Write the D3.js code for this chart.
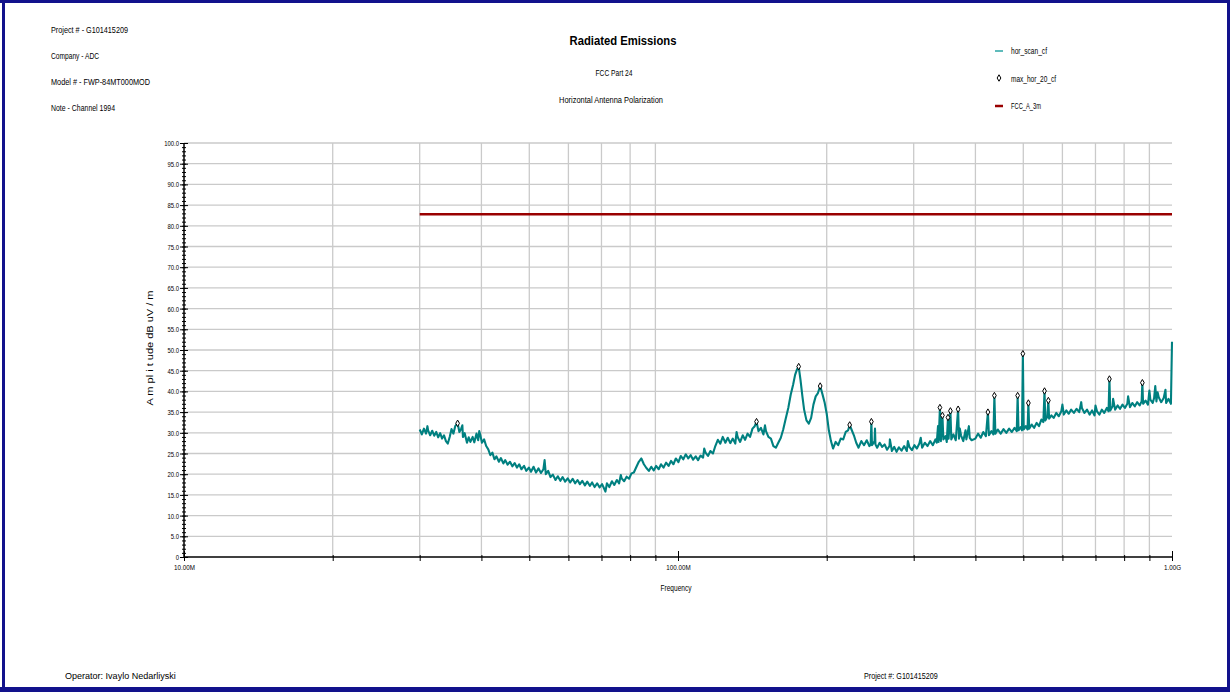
<!DOCTYPE html>
<html>
<head>
<meta charset="utf-8">
<script src="https://cdn.jsdelivr.net/npm/d3@7"></script>
<style>
  body { margin: 0; background: #fff; }
  svg text { font-family: "Liberation Sans Narrow", "Liberation Sans", Arial, sans-serif; fill: #000; }
</style>
</head>
<body>
<div id="chart"></div>
<script>
// header / footer text
const headerLines = ['Project # - G101415209', 'Company - ADC', 'Model # - FWP-84MT000MOD', 'Note - Channel 1994'];
const titleLines = ['Radiated Emissions', 'FCC Part 24', 'Horizontal Antenna Polarization'];
const legendNames = ['hor_scan_cf', 'max_hor_20_cf', 'FCC_A_3m'];
const footerLines = ['Operator: Ivaylo Nedarliyski', 'Project #: G101415209'];

// x axis (MHz) and labels
const xTickFreqs = [10, 20, 30, 40, 50, 60, 70, 80, 90, 100, 200, 300, 400, 500, 600, 700, 800, 900, 1000];
const xLabelFreqs = [10, 100, 1000];
const xLabelTexts = ['10.00M', '100.00M', '1.00G'];

// limit line FCC_A_3m
const limitFreqs = [30, 1000];
const limitLevels = [82.8, 82.8];

// peaks max_hor_20_cf (MHz, dBuV/m)
const peakFreqs = [35.8, 144.2, 175.5, 194, 222.6, 246.3, 339, 343, 352, 356, 369, 424, 437, 487, 499, 512, 552, 562, 747, 871];
const peakLevels = [32.3, 32.7, 46.0, 41.3, 31.9, 32.7, 36.1, 34.2, 33.7, 35.3, 35.7, 35.0, 39.0, 39.0, 49.1, 37.2, 40.1, 37.8, 43.0, 42.1];

// scan hor_scan_cf, [MHz, dBuV/m]
const scanPoints = [
  [30.0,30.8],[30.3,29.6],[30.6,31.0],[30.9,29.8],[31.1,31.6],[31.2,30.6],[31.5,29.4],[31.8,30.5],[32.1,29.3],[32.4,30.2],[32.7,28.9],
  [33.0,29.9],[33.3,28.6],[33.6,29.4],[33.9,28.0],[34.2,27.4],[34.5,29.0],[34.8,30.9],[35.1,29.8],[35.4,31.6],[35.8,32.3],
  [36.1,30.2],[36.4,31.0],[36.6,31.8],[36.7,29.0],[37.0,29.9],[37.4,27.6],[37.7,28.9],[38.0,27.8],[38.4,29.0],[38.7,27.7],[39.1,29.8],
  [39.4,28.2],[39.6,30.4],[39.8,29.4],[40.1,27.6],[40.5,28.4],[40.9,26.8],[41.3,26.0],[41.7,24.6],[42.1,25.2],[42.5,23.6],[42.9,24.3],
  [43.4,23.0],[43.8,23.9],[44.3,22.6],[44.7,23.4],[45.2,22.3],[45.7,23.0],[46.2,21.9],[46.7,22.7],[47.2,21.6],[47.7,22.4],
  [48.2,21.2],[48.8,22.0],[49.3,20.8],[49.9,21.6],[50.4,20.6],[51.0,21.8],[51.6,20.4],[52.2,21.4],[52.8,20.3],[53.4,21.2],
  [53.7,23.4],[54.0,20.0],[54.6,20.8],[55.2,19.3],[55.8,19.9],[56.5,18.6],[57.1,19.5],[57.8,18.4],[58.4,19.3],[59.1,18.2],[59.8,19.0],
  [60.5,18.0],[61.2,18.9],[61.9,17.8],[62.6,18.6],[63.3,17.6],[64.0,18.4],[64.8,17.3],[65.5,18.2],[66.3,17.2],[67.0,18.0],
  [67.8,16.9],[68.6,17.8],[69.4,16.8],[70.2,17.6],[71.0,16.3],[71.3,15.8],[71.8,17.8],[72.6,16.9],[73.5,18.3],[74.3,17.4],[75.2,18.6],
  [76.0,17.8],[76.6,19.8],[76.9,19.0],[77.8,18.3],[78.7,19.4],[79.6,18.9],[80.5,20.2],[81.4,20.4],[82.4,21.8],[83.3,23.0],[84.3,23.8],
  [85.3,22.4],[86.3,21.5],[87.3,20.8],[88.3,21.8],[89.3,20.9],[90.3,22.0],[91.4,21.2],[92.4,22.4],[93.5,21.6],[94.6,22.8],
  [95.7,22.0],[96.8,23.2],[97.9,22.4],[99.0,23.8],[100.2,22.9],[101.3,24.4],[102.5,23.6],[103.7,24.8],[104.9,23.8],[106.1,24.6],
  [107.3,23.5],[108.6,24.3],[109.8,23.4],[111.1,24.5],[112.4,24.0],[113.0,26.2],[113.7,25.2],[115.0,24.4],[116.3,25.6],[117.7,25.0],[119.0,26.8],
  [120.4,28.3],[121.8,27.4],[123.2,29.0],[124.7,27.6],[126.1,28.8],[127.6,27.5],[129.1,28.6],[130.6,27.4],[131.4,30.2],[132.1,28.9],[133.6,27.8],
  [135.2,29.4],[136.7,28.3],[138.3,29.8],[139.9,29.0],[141.5,31.0],[143.0,31.6],[144.2,32.7],[145.5,30.4],[147.2,31.2],[148.9,29.6],
  [150.0,31.8],[150.7,30.4],[152.4,29.0],[154.2,28.6],[156.0,26.8],[157.8,26.4],[159.6,27.6],[161.5,28.8],[163.3,30.8],[165.2,33.4],[167.2,36.0],
  [169.1,39.2],[171.0,41.6],[172.6,44.0],[174.0,45.2],[175.5,46.0],[177.0,42.8],[178.5,39.0],[180.0,35.6],[182.0,33.0],[184.0,32.2],
  [186.0,33.6],[188.0,36.8],[190.0,38.8],[192.0,39.6],[194.0,41.3],[196.0,39.4],[198.0,37.4],[200.0,34.6],[202.0,30.6],[204.0,28.0],
  [206.0,26.2],[208.5,27.8],[211.0,27.0],[213.5,28.6],[216.0,28.4],[218.5,30.2],[221.0,30.6],[222.6,31.9],[224.5,30.8],[227.0,29.4],
  [229.5,27.6],[232.0,26.4],[235.0,28.0],[238.0,27.0],[241.0,28.2],[244.0,26.8],[245.5,27.2],[246.3,32.7],[247.0,27.0],[250.0,28.0],
  [250.5,31.0],[251.0,27.2],[253.0,26.4],[256.0,27.6],[259.0,26.6],[262.0,27.2],[265.0,25.9],[268.0,26.8],[268.5,28.4],[271.0,25.6],[274.0,26.6],
  [277.0,25.4],[280.0,26.5],[283.5,25.7],[287.0,26.8],[290.5,25.6],[292.0,28.0],[294.0,26.6],[297.5,25.8],[301.0,27.0],[304.5,26.2],[308.0,27.4],
  [310.0,28.8],[312.0,26.4],[316.0,27.6],[320.0,26.8],[324.0,28.0],[328.0,27.0],[332.0,28.4],[334.0,27.6],[336.0,31.6],[337.0,27.8],[339.0,36.1],
  [340.5,28.0],[343.0,34.2],[344.5,28.4],[348.0,29.2],[350.0,27.8],[352.0,33.7],[353.0,28.6],[356.0,35.3],[357.5,28.4],[361.0,29.6],
  [365.0,28.2],[369.0,35.7],[370.5,28.6],[372.0,31.0],[374.0,29.4],[378.0,28.0],[382.0,30.6],[383.5,28.4],[388.0,31.6],[389.5,28.8],[393.0,28.2],
  [400.0,28.6],[405.0,29.8],[410.0,28.8],[415.0,30.2],[420.0,29.2],[424.0,35.0],[426.0,29.4],[431.0,30.4],[435.0,29.6],[437.0,39.0],
  [439.0,29.8],[444.0,30.8],[450.0,29.8],[456.0,30.9],[462.0,30.0],[468.0,31.0],[474.0,30.2],[480.0,31.2],[485.0,30.4],[487.0,39.0],
  [489.0,30.6],[494.0,31.4],[497.0,30.6],[499.0,49.1],[501.0,30.8],[506.0,31.6],[510.0,30.8],[512.0,37.2],[514.0,31.0],[520.0,32.0],
  [526.0,31.2],[532.0,32.4],[538.0,31.6],[544.0,33.2],[549.0,32.6],[552.0,40.1],[554.0,33.0],[559.0,33.8],[562.0,37.8],[564.0,33.4],
  [570.0,34.2],[576.0,33.6],[583.0,34.8],[590.0,34.0],[597.0,35.2],[600.0,36.8],[604.0,34.4],[611.0,35.4],[618.0,34.6],[625.0,35.6],[633.0,34.8],
  [641.0,35.8],[649.0,35.0],[655.0,37.4],[657.0,36.0],[665.0,34.8],[673.0,35.6],[681.0,34.4],[689.0,35.4],[697.0,34.2],[700.0,36.6],[705.0,35.2],[713.0,34.4],
  [721.0,35.6],[729.0,34.8],[738.0,36.0],[744.0,35.2],[747.0,43.0],[750.0,35.4],[758.0,36.4],[760.0,38.2],[767.0,35.6],[776.0,36.6],[785.0,35.8],
  [794.0,36.8],[803.0,36.0],[812.0,37.0],[815.0,38.8],[822.0,36.2],[831.0,37.2],[841.0,36.4],[850.0,37.4],[860.0,36.6],[868.0,37.6],[871.0,42.1],
  [874.0,37.0],[884.0,37.8],[894.0,36.8],[900.0,40.2],[904.0,38.0],[914.0,37.2],[920.0,38.4],[925.0,41.3],[930.0,37.6],[935.0,39.8],[940.0,38.6],[951.0,37.4],
  [962.0,38.4],[970.0,40.4],[973.0,37.2],[984.0,38.2],[995.0,37.0],[1000.0,52.0]
];

const W = 1230, H = 692;
const svg = d3.select('#chart').append('svg').attr('width', W).attr('height', H);

// squeeze text to the narrow face of the original
function fitW(sel, w) { sel.attr('textLength', w).attr('lengthAdjust', 'spacingAndGlyphs'); }
function squeeze(sel, k) {
  sel.each(function () {
    const L = this.getComputedTextLength();
    if (L > 0) d3.select(this).attr('textLength', L * k).attr('lengthAdjust', 'spacingAndGlyphs');
  });
}

// navy page frame
const frameColor = '#12128c';
svg.append('rect').attr('x', 0).attr('y', 0).attr('width', W).attr('height', 3).attr('fill', frameColor);
svg.append('rect').attr('x', 2).attr('y', 0).attr('width', 3).attr('height', H).attr('fill', frameColor);
svg.append('rect').attr('x', 1227).attr('y', 0).attr('width', 3).attr('height', H).attr('fill', frameColor);
svg.append('rect').attr('x', 0).attr('y', 687).attr('width', W).attr('height', 5).attr('fill', frameColor);

const x = d3.scaleLog().domain([10, 1000]).range([184, 1172]);
const y = d3.scaleLinear().domain([0, 100]).range([557, 143]);

// header on the left
const hdrW = [77, 48, 99, 64];
svg.selectAll('.hdr').data(headerLines).enter().append('text')
  .attr('x', 51).attr('y', (d, i) => 33 + i * 26)
  .attr('font-size', 9).text(d => d)
  .each(function (d, i) { fitW(d3.select(this), hdrW[i]); });

// titles
fitW(svg.append('text').attr('x', 623).attr('y', 45).attr('text-anchor', 'middle')
  .attr('font-size', 13).attr('font-weight', 'bold').text(titleLines[0]), 107);
fitW(svg.append('text').attr('x', 614).attr('y', 76).attr('text-anchor', 'middle')
  .attr('font-size', 9).text(titleLines[1]), 37);
fitW(svg.append('text').attr('x', 611).attr('y', 103).attr('text-anchor', 'middle')
  .attr('font-size', 9).text(titleLines[2]), 104);

// legend
const lg = svg.append('g');
lg.append('line').attr('x1', 995).attr('x2', 1003).attr('y1', 51).attr('y2', 51)
  .attr('stroke', '#2aa5a5').attr('stroke-width', 1.5);
lg.append('path').attr('d', d3.symbol(d3.symbolDiamond, 12)())
  .attr('transform', 'translate(999,78)').attr('fill', '#fff').attr('stroke', '#000').attr('stroke-width', 1);
lg.append('line').attr('x1', 995).attr('x2', 1003).attr('y1', 106).attr('y2', 106)
  .attr('stroke', '#990000').attr('stroke-width', 2.5);
const lgW = [36, 45, 30];
lg.selectAll('.lgt').data(legendNames).enter().append('text')
  .attr('x', 1011).attr('y', (d, i) => 54 + i * 27.5)
  .attr('font-size', 9).text(d => d)
  .each(function (d, i) { fitW(d3.select(this), lgW[i]); });

// grid
const gridCol = '#cacaca';
svg.append('g').selectAll('line').data(d3.range(5, 101, 5)).enter().append('line')
  .attr('x1', x(10)).attr('x2', x(1000))
  .attr('y1', d => y(d)).attr('y2', d => y(d))
  .attr('stroke', gridCol).attr('stroke-width', 1.3);
svg.append('g').selectAll('line').data(xTickFreqs.filter(f => xLabelFreqs.indexOf(f) < 0)).enter().append('line')
  .attr('x1', d => x(d)).attr('x2', d => x(d))
  .attr('y1', y(0)).attr('y2', y(100))
  .attr('stroke', gridCol).attr('stroke-width', 1.3);

// y axis, minor then major ticks
const yMinor = svg.append('g').attr('transform', `translate(${x(10)},0)`)
  .call(d3.axisLeft(y).tickValues(d3.range(0, 101, 1)).tickSize(2).tickFormat(''));
yMinor.selectAll('.tick line').attr('x2', 2).attr('x1', -2);
yMinor.select('.domain').remove();

const yAxis = svg.append('g').attr('transform', `translate(${x(10)},0)`)
  .call(d3.axisLeft(y).tickValues(d3.range(0, 101, 5)).tickSize(4).tickPadding(1)
    .tickFormat(d => d === 0 ? '0' : d.toFixed(1)));
yAxis.selectAll('.tick line').attr('x1', 4);
yAxis.select('.domain').attr('d', `M0,${y(0)}V${y(100)}`).attr('stroke-width', 1.5);
yAxis.selectAll('text').attr('font-size', 8).attr('font-family', null).call(squeeze, 0.74);

// x axis
const xAxis = svg.append('g').attr('transform', `translate(0,${y(0)})`)
  .call(d3.axisBottom(x).tickValues(xTickFreqs).tickSize(4).tickPadding(3)
    .tickFormat(d => { const k = xLabelFreqs.indexOf(d); return k < 0 ? '' : xLabelTexts[k]; }));
xAxis.selectAll('.tick line').attr('y1', d => xLabelFreqs.indexOf(d) < 0 ? -2 : -6);
xAxis.select('.domain').attr('d', `M${x(10)},0H${x(1000)}`).attr('stroke-width', 1.5);
xAxis.selectAll('text').attr('font-size', 8).attr('font-family', null).call(squeeze, 0.78);

// axis titles
fitW(svg.append('text').attr('transform', `translate(153,${y(50) - 2}) rotate(-90)`)
  .attr('text-anchor', 'middle').attr('font-size', 9)
  .text('A m pl i t ude dB uV / m'), 115);
fitW(svg.append('text').attr('x', 676).attr('y', 591).attr('text-anchor', 'middle')
  .attr('font-size', 9).text('Frequency'), 31);

// limit line
svg.append('path')
  .datum(limitFreqs.map((f, i) => [f, limitLevels[i]]))
  .attr('d', d3.line().x(d => x(d[0])).y(d => y(d[1])))
  .attr('fill', 'none').attr('stroke', '#990000').attr('stroke-width', 2.5);

// scan trace
svg.append('path')
  .datum(scanPoints)
  .attr('d', d3.line().x(d => x(d[0])).y(d => y(d[1])))
  .attr('fill', 'none').attr('stroke', '#008080').attr('stroke-width', 2.1)
  .attr('stroke-linejoin', 'round');

// peak markers
svg.append('g').selectAll('path').data(peakFreqs).enter().append('path')
  .attr('d', d3.symbol(d3.symbolDiamond, 12)())
  .attr('transform', (d, i) => `translate(${x(d)},${y(peakLevels[i])})`)
  .attr('fill', '#fff').attr('stroke', '#000').attr('stroke-width', 1);

// footer, squeezed by scaling about its left edge
const footX = [65, 864], footW = [111, 74];
svg.selectAll('.ft').data(footerLines).enter().append('text')
  .attr('x', 0).attr('y', 0).attr('font-size', 9).text(d => d)
  .each(function (d, i) {
    const k = footW[i] / this.getComputedTextLength();
    d3.select(this).attr('transform', `translate(${footX[i]},679) scale(${k},1)`);
  });
</script>
</body>
</html>
